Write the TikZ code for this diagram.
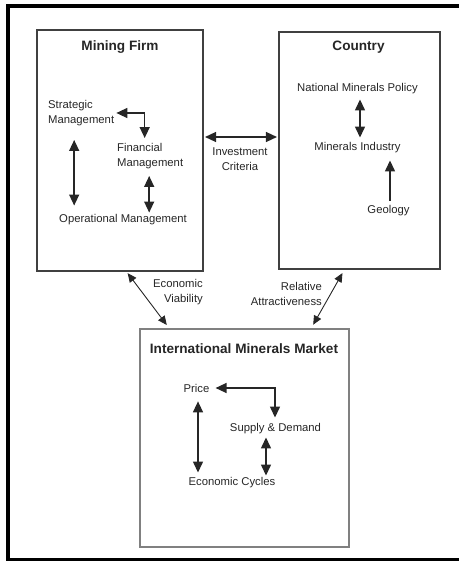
\documentclass[tikz,border=0pt]{standalone}
\usepackage{fontspec}
\setmainfont{Liberation Sans}
\usetikzlibrary{arrows.meta}

\begin{document}
\begin{tikzpicture}[x=1pt,y=-1pt,
  txt/.style={font=\fontsize{11.3}{15}\selectfont, inner sep=0pt, text=black!85},
  ttl/.style={font=\bfseries\fontsize{13.6}{16}\selectfont, inner sep=0pt, text=black!85},
  box/.style={draw=black!75, line width=1.1pt, inner sep=0pt},
  mbox/.style={draw=black!50, line width=1.6pt, inner sep=0pt},
  dbl/.style={{Triangle[length=11pt,width=10pt]}-{Triangle[length=11pt,width=10pt]}, line width=1.4pt, draw=black!85},
  one/.style={-{Triangle[length=11pt,width=10pt]}, line width=1.4pt, draw=black!85},
  slim/.style={{Triangle[length=9pt,width=8pt]}-{Triangle[length=9pt,width=8pt]}, line width=0.9pt, draw=black!85}
]
\useasboundingbox (0,0) rectangle (458,561);

% outer frame
\draw[line width=4pt] (462,6.5) -- (8,6.5) -- (8,561);
\draw[line width=2.5pt] (8,559.5) -- (462,559.5);

% the three blocks
\node[box, minimum width=166pt, minimum height=241pt] (firm) at (120,150.5) {};
\node[box, minimum width=161pt, minimum height=237pt] (country) at (359.5,150.5) {};
\node[mbox, minimum width=209pt, minimum height=218pt] (market) at (244.5,438) {};

% titles
\node[ttl] (firmT) at (120,47) {Mining Firm};
\node[ttl] (countryT) at (358.5,47) {Country};
\node[ttl] (marketT) at (244,349) {International Minerals Market};

% mining firm contents
\node[txt, align=left, anchor=west] (strat) at (48,113) {Strategic\\Management};
\node[txt, align=left, anchor=west] (fin) at (117,156) {Financial\\Management};
\node[txt] (op) at (123,220) {Operational Management};

\draw[dbl, shorten <=2pt] (strat.east) -| ([xshift=-5.5pt,yshift=5pt]fin.north);
\draw[dbl, shorten <=7pt, shorten >=2pt] ([xshift=-1pt]fin.south) -- ([xshift=-1pt]fin.south |- op.north);
\draw[dbl, shorten <=14pt, shorten >=9pt] ([xshift=-7pt]strat.south) -- ([xshift=-7pt]strat.south |- op.north);

% country contents
\node[txt] (nmp) at (357.5,89) {National Minerals Policy};
\node[txt] (mi) at (357.5,148) {Minerals Industry};
\node[txt] (geo) at (388.5,211) {Geology};

\draw[dbl, shorten <=5pt, shorten >=5pt] ([xshift=2.5pt]nmp.south) -- ([xshift=2.5pt]nmp.south |- mi.north);
\draw[one, shorten <=5pt, shorten >=7pt] ([xshift=1.5pt]geo.north) -- ([xshift=1.5pt]geo.north |- mi.south);

% links between the blocks
\node[txt, align=center] (inv) at (240,159.5) {Investment\\Criteria};
\draw[dbl, shorten <=1.5pt, shorten >=1.5pt] (firm.east |- 0,137) -- (country.west |- 0,137);

\node[txt, align=right, anchor=east] (ev) at (203,292) {Economic\\Viability};
\node[txt, align=right, anchor=east] (ra) at (322,294) {Relative\\Attractiveness};
\draw[slim, shorten <=2pt, shorten >=4pt] ([xshift=90pt]firm.south west) -- ([xshift=30pt]market.north west);
\draw[slim, shorten <=4pt, shorten >=4pt] ([xshift=66pt]country.south west) -- ([xshift=172pt]market.north west);

% market contents
\node[txt] (price) at (196.5,388) {Price};
\node[txt] (sd) at (275.5,429) {Supply \& Demand};
\node[txt] (ec) at (232,483) {Economic Cycles};

\draw[dbl, shorten <=6pt, shorten >=6pt] (price.east) -| ([xshift=-0.5pt]sd.north);
\draw[dbl, shorten <=3pt, shorten >=2pt] ([xshift=-9.5pt]sd.south) -- ([xshift=-9.5pt]sd.south |- ec.north);
\draw[dbl, shorten <=9pt, shorten >=5pt] ([xshift=1.5pt]price.south) -- ([xshift=1.5pt]price.south |- ec.north);
\end{tikzpicture}
\end{document}
